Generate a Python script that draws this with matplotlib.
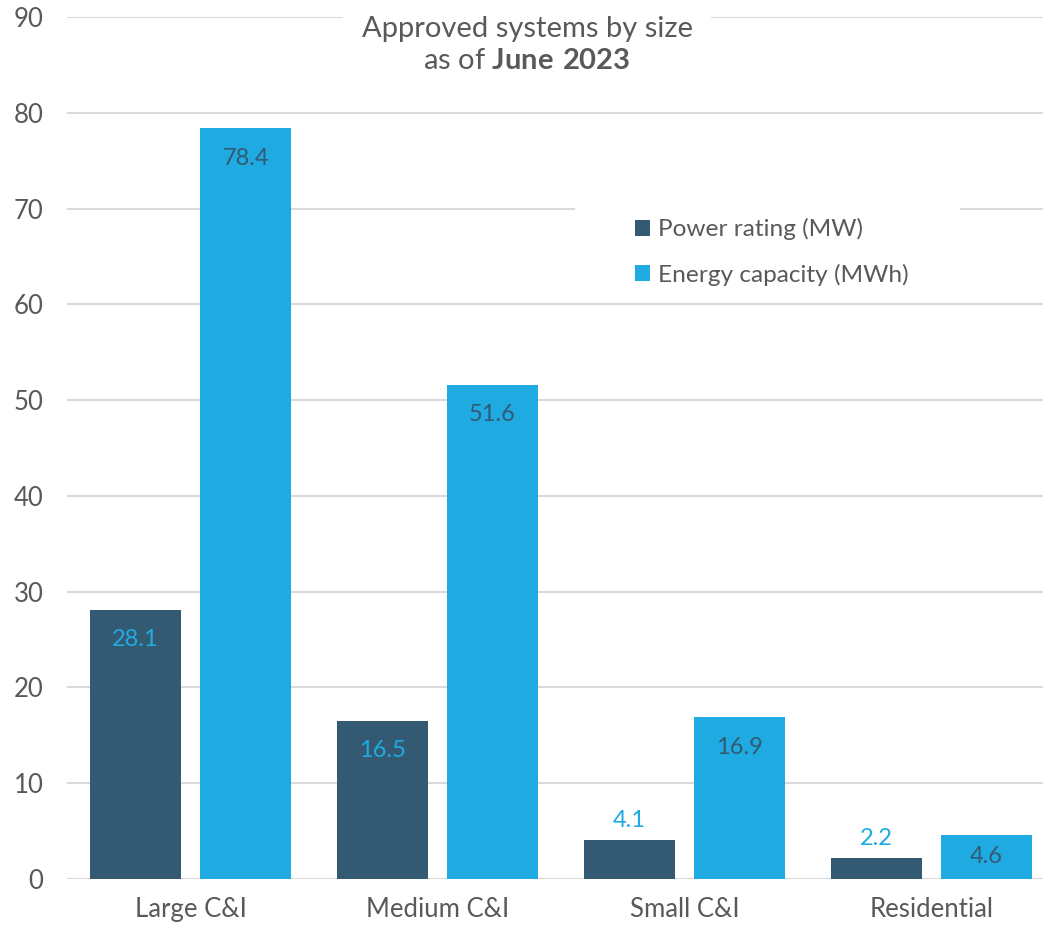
import matplotlib
matplotlib.use('Agg')
import matplotlib.pyplot as plt
from matplotlib.patches import Rectangle
import numpy as np

plt.rcParams['font.family'] = ['Lato', 'DejaVu Sans']
plt.rcParams['mathtext.fontset'] = 'custom'
plt.rcParams['mathtext.rm'] = 'Lato'
plt.rcParams['mathtext.bf'] = 'Lato:bold'

categorias = ['Large C&I', 'Medium C&I', 'Small C&I', 'Residential']
potencia_mw = [28.1, 16.5, 4.1, 2.2]
energia_mwh = [78.4, 51.6, 16.9, 4.6]
series = ['Power rating (MW)', 'Energy capacity (MWh)']

OSCURO = '#345A73'
CLARO = '#1FABE2'
GRIS = '#595959'
GRID = '#D9D9D9'

W, H = 1043, 926
fig = plt.figure(figsize=(W / 100, H / 100), dpi=100)
# el eje se extiende un poco mas alla del borde derecho (imagen recortada)
ax = fig.add_axes([67 / W, 47 / H, 988 / W, 862 / H])

x = np.arange(len(categorias))
ancho = 0.368
desp = 0.2227

b1 = ax.bar(x - desp, potencia_mw, ancho, color=OSCURO, label=series[0], zorder=3)
b2 = ax.bar(x + desp, energia_mwh, ancho, color=CLARO, label=series[1], zorder=3)

ax.set_xlim(-0.5, len(categorias) - 0.5)
ax.set_ylim(0, 90)
ax.set_yticks(range(0, 91, 10))
ax.yaxis.grid(True, color=GRID, linewidth=1.5, zorder=0)
ax.set_axisbelow(True)
for s in ax.spines.values():
    s.set_visible(False)
ax.axhline(0, color=GRID, linewidth=1.5, zorder=2)
ax.tick_params(axis='both', length=0, labelsize=18.5, labelcolor=GRIS)
ax.tick_params(axis='y', pad=17)
ax.tick_params(axis='x', pad=13)
ax.set_xticks(x)
ax.set_xticklabels(categorias)

px2pt = 72 / 100


def etiqueta(bar, val, color, fuera):
    cx = bar.get_x() + bar.get_width() / 2
    alto_px = ax.transData.transform((0, val))[1] - ax.transData.transform((0, 0))[1]
    if fuera:
        dy = 19
    else:
        dy = -min(30, alto_px / 2)
    ax.annotate(f'{val:.1f}', (cx, val), xytext=(0, dy * px2pt), textcoords='offset points',
                ha='center', va='center', fontsize=17, color=color, zorder=5)


for bar, val in zip(b1, potencia_mw):
    etiqueta(bar, val, CLARO, val < 5)
for bar, val in zip(b2, energia_mwh):
    etiqueta(bar, val, OSCURO, False)

# Titulo dentro del area del grafico
fig.text(527 / W, 1 - 45 / H, 'Approved systems by size\nas of $\\bf{June\\ 2023}$',
         ha='center', va='center', fontsize=21, color=GRIS, linespacing=1.3,
         bbox=dict(facecolor='white', edgecolor='none', pad=13), zorder=10)

# fondo blanco de la leyenda (corta la linea de 70)
ax.add_patch(Rectangle((575 / W, 1 - 300 / H), 385 / W, 110 / H, transform=fig.transFigure,
                       facecolor='white', edgecolor='none', zorder=1))

leg = ax.legend(loc='center left', bbox_to_anchor=(618 / W, 1 - 252 / H),
                bbox_transform=fig.transFigure, frameon=False, fontsize=17.6,
                handlelength=0.62, handleheight=0.62, handletextpad=0.3,
                labelspacing=0.95, borderpad=0.2, labelcolor=GRIS)
leg.set_zorder(10)

plt.savefig('out.png', dpi=100)
plt.close()
